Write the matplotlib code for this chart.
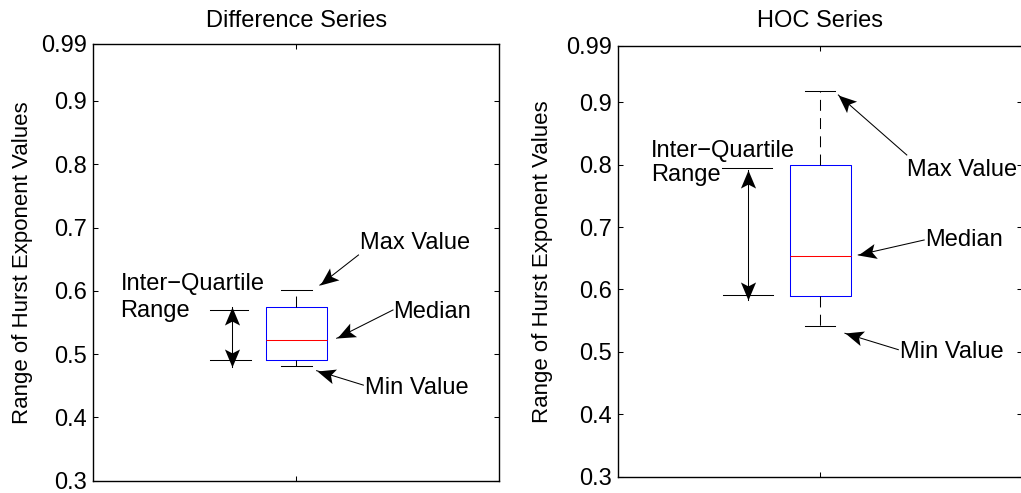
import numpy as np
import matplotlib
matplotlib.use("Agg")
import matplotlib.pyplot as plt
from matplotlib.path import Path
from matplotlib.markers import MarkerStyle
from matplotlib.transforms import Affine2D

plt.rcParams['font.family'] = ['Liberation Sans', 'DejaVu Sans']
plt.rcParams['font.size'] = 17

# box plot summaries of the Hurst exponent estimates
titles = ["Difference Series", "HOC Series"]
whis_lo = [0.481, 0.542]
q1 = [0.491, 0.590]
medians = [0.522, 0.654]
q3 = [0.574, 0.800]
whis_hi = [0.602, 0.918]

ytick_vals = [0.3, 0.4, 0.5, 0.6, 0.7, 0.8, 0.9, 0.99]
ytick_labels = ["0.3", "0.4", "0.5", "0.6", "0.7", "0.8", "0.9", "0.99"]
ylabel = "Range of Hurst Exponent Values"
iqr_label = "Inter\u2212Quartile\nRange"

# callout layout per panel (data coords): text pos, line start, arrow tip
notes = [
    {
        "iqr_text": (0.567, 0.590), "iqr_spacing": 1.3,
        "iqr_lines": [(0.787, 0.881, 0.5697), (0.787, 0.888, 0.4907)],
        "iqr_arrow": (0.842, 0.574, 0.480),
        "labels": [
            ("Max Value", (1.157, 0.6756), (1.153, 0.6566), (1.058, 0.609)),
            ("Median", (1.239, 0.567), (1.238, 0.5697), (1.0995, 0.525)),
            ("Min Value", (1.169, 0.4465), (1.165, 0.451), (1.050, 0.4738)),
        ],
        "ylab_x": -0.148, "title_pad": 12.5,
    },
    {
        "iqr_text": (0.581, 0.8026), "iqr_spacing": 1.1,
        "iqr_lines": [(0.756, 0.880, 0.795), (0.760, 0.883, 0.591)],
        "iqr_arrow": (0.822, 0.791, 0.583),
        "labels": [
            ("Max Value", (1.2153, 0.7913), (1.214, 0.8154), (1.0446, 0.9115)),
            ("Median", (1.259, 0.6792), (1.257, 0.6792), (1.094, 0.6552)),
            ("Min Value", (1.197, 0.5003), (1.193, 0.5035), (1.061, 0.5297)),
        ],
        "ylab_x": -0.162, "title_pad": 13.5,
    },
]

# concave arrow head pointing along +x, tip at origin
head_path = Path([(0, 0), (-1, 0.42), (-0.78, 0), (-1, -0.42), (0, 0)],
                 [Path.MOVETO, Path.LINETO, Path.LINETO, Path.LINETO, Path.CLOSEPOLY])


def arrow(ax, tail, tip, both=False):
    ax.plot([tail[0], tip[0]], [tail[1], tip[1]], color='k', lw=0.75, clip_on=False)
    ends = [(tail, tip), (tip, tail)] if both else [(tail, tip)]
    for a, b in ends:
        p0 = ax.transData.transform(a)
        p1 = ax.transData.transform(b)
        ang = np.arctan2(p1[1] - p0[1], p1[0] - p0[0])
        m = MarkerStyle(head_path, transform=Affine2D().rotate(ang))
        ax.plot(b[0], b[1], marker=m, markersize=26, color='k',
                markeredgewidth=0, clip_on=False)


fig = plt.figure(figsize=(10.21, 4.93), dpi=100)
rects = [[0.0914, 0.0250, 0.3977, 0.8858], [0.6056, 0.0331, 0.3957, 0.8736]]

for i, title in enumerate(titles):
    ax = fig.add_axes(rects[i])
    stats = [dict(med=medians[i], q1=q1[i], q3=q3[i],
                  whislo=whis_lo[i], whishi=whis_hi[i], fliers=[])]
    ax.bxp(stats, positions=[1], widths=0.15, showfliers=False, manage_ticks=False,
           boxprops=dict(color='blue', lw=0.75),
           medianprops=dict(color='red', lw=0.75),
           whiskerprops=dict(color='k', lw=0.75, linestyle=(0, (10.5, 7))),
           capprops=dict(color='k', lw=0.75))
    ax.set_xlim(0.5, 1.5)
    ax.set_ylim(0.3, 0.99)
    ax.set_xticks([1])
    ax.set_xticklabels([])
    ax.set_yticks(ytick_vals)
    ax.set_yticklabels(ytick_labels)
    ax.tick_params(direction='in', length=3.5, width=0.75, top=True, right=True,
                   pad=4.3, labelsize=17)
    for sp in ax.spines.values():
        sp.set_linewidth(1.0)
    ax.set_title(title, pad=notes[i]["title_pad"], fontsize=17)
    ax.set_ylabel(ylabel, fontsize=16)
    ax.yaxis.set_label_coords(notes[i]["ylab_x"], 0.5)

    nt = notes[i]
    ax.text(*nt["iqr_text"], iqr_label, ha='left', va='center',
            linespacing=nt["iqr_spacing"])
    for x0, x1, y in nt["iqr_lines"]:
        ax.plot([x0, x1], [y, y], color='k', lw=0.75)
    ax_x, top, bot = nt["iqr_arrow"]
    arrow(ax, (ax_x, bot), (ax_x, top), both=True)
    for txt, tpos, tail, tip in nt["labels"]:
        ax.text(*tpos, txt, ha='left', va='center', clip_on=False)
        arrow(ax, tail, tip)

fig.savefig("out.png", dpi=100)
